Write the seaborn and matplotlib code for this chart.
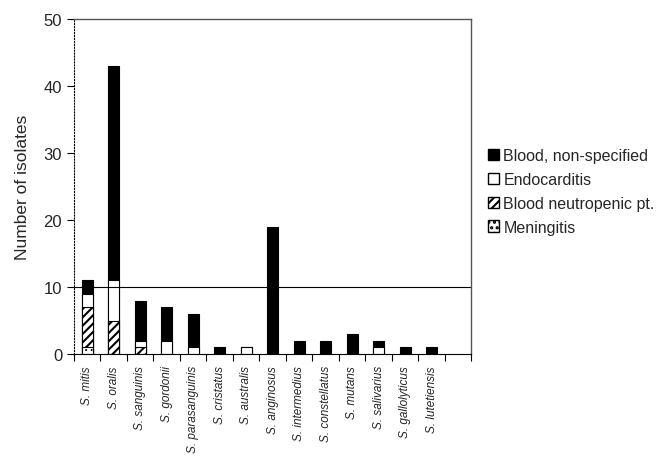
import numpy as np
import pandas as pd
import seaborn as sns
import matplotlib as mpl
import matplotlib.pyplot as plt
from matplotlib.patches import Patch

species = ['S. mitis', 'S. oralis', 'S. sanguinis', 'S. gordonii', 'S. parasanguinis',
           'S. cristatus', 'S. australis', 'S. anginosus', 'S. intermedius',
           'S. constellatus', 'S. mutans', 'S. salivarius', 'S. gallolyticus',
           'S. lutetiensis']
meningitis = [1, 0, 0, 0, 0, 0, 0, 0, 0, 0, 0, 0, 0, 0]
neutropenic = [6, 5, 1, 0, 0, 0, 0, 0, 0, 0, 0, 0, 0, 0]
endocarditis = [2, 6, 1, 2, 1, 0, 1, 0, 0, 0, 0, 1, 0, 0]
blood = [2, 32, 6, 5, 5, 1, 0, 19, 2, 2, 3, 1, 1, 1]

df = pd.DataFrame({'species': species, 'men': meningitis, 'neu': neutropenic,
                   'endo': endocarditis, 'blood': blood})
df['c1'] = df['men']
df['c2'] = df['c1'] + df['neu']
df['c3'] = df['c2'] + df['endo']
df['c4'] = df['c3'] + df['blood']

sns.set_style('white')
plt.rcParams['font.family'] = ['Liberation Sans', 'DejaVu Sans']
plt.rcParams['hatch.linewidth'] = 1.5

fig = plt.figure(figsize=(6.57, 4.60), dpi=100)
ax = fig.add_axes([0.1126, 0.228, 0.605, 0.7285])

w = 0.42
# stacked by overdrawing cumulative totals
sns.barplot(data=df, x='species', y='c4', color='black', edgecolor='black',
            width=w, linewidth=0.8, ax=ax, saturation=1)
sns.barplot(data=df, x='species', y='c3', color='white', edgecolor='black',
            width=w, linewidth=0.8, ax=ax, saturation=1)
sns.barplot(data=df, x='species', y='c2', color='white', edgecolor='black',
            width=w, linewidth=0.8, hatch='////', ax=ax, saturation=1)
with mpl.rc_context({'hatch.linewidth': 0.6}):
    sns.barplot(data=df, x='species', y='c1', color='white', edgecolor='black',
                width=w, linewidth=0.8, hatch='...', ax=ax, saturation=1)

# hide zero-height bars outline
for p in ax.patches:
    if p.get_height() == 0:
        p.set_visible(False)

ax.set_xlim(-0.5, 14.5)
ax.set_ylim(0, 50)
ax.set_yticks([0, 10, 20, 30, 40, 50])
ax.axhline(10, color='black', linewidth=0.8)

ax.set_xticks(range(len(species)))
ax.set_xticklabels(species, rotation=90, fontsize=8.5, style='italic')
ax.set_xticks(np.arange(-0.5, 15, 1), minor=True)
ax.tick_params(axis='x', which='major', length=0, pad=8)
ax.tick_params(axis='x', which='minor', length=5, width=0.8, direction='out',
               bottom=True, color='black')
ax.tick_params(axis='y', length=5, width=0.8, direction='out', left=True,
               labelsize=12, color='black')

ax.set_xlabel('')
ax.set_ylabel('Number of isolates', fontsize=12.5, labelpad=10)

for s in ['top', 'right']:
    ax.spines[s].set_color('#555555')
    ax.spines[s].set_linewidth(1.0)
for s in ['left', 'bottom']:
    ax.spines[s].set_color('black')
    ax.spines[s].set_linewidth(0.8)
ax.spines['left'].set_linestyle(':')

handles = [Patch(facecolor='black', edgecolor='black'),
           Patch(facecolor='white', edgecolor='black'),
           Patch(facecolor='white', edgecolor='black', hatch='////')]
with mpl.rc_context({'hatch.linewidth': 0.6}):
    handles.append(Patch(facecolor='white', edgecolor='black', hatch='...'))
labels = ['Blood, non-specified', 'Endocarditis', 'Blood neutropenic pt.', 'Meningitis']
fig.legend(handles, labels, loc='upper left', bbox_to_anchor=(0.731, 0.693),
           frameon=False, fontsize=11.5, handlelength=0.7, handleheight=0.7,
           handletextpad=0.25, labelspacing=0.55, borderpad=0)

fig.savefig('out.png', dpi=100)
